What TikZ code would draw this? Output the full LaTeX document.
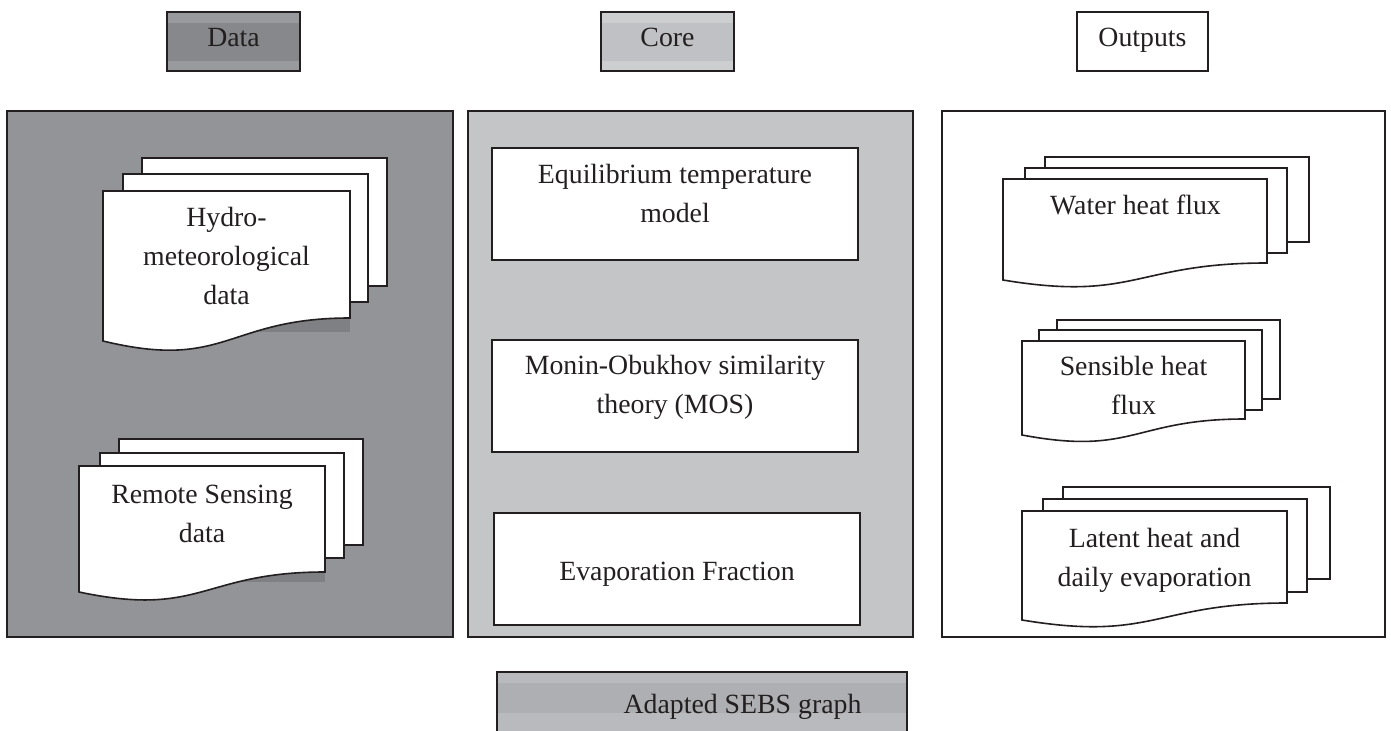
\documentclass[tikz,border=0pt]{standalone}
\usepackage{fontspec}
\setmainfont{Liberation Serif}
\definecolor{ink}{HTML}{231F20}
\definecolor{datafill}{HTML}{939498}
\definecolor{datahead}{HTML}{87888C}
\definecolor{databand}{HTML}{999A9E}
\definecolor{datashade}{HTML}{7F8084}
\definecolor{corefill}{HTML}{C4C5C7}
\definecolor{corehead}{HTML}{C0C1C4}
\definecolor{coreband}{HTML}{CDCED0}
\definecolor{sebsfill}{HTML}{AEAFB2}
\definecolor{sebsband}{HTML}{B9BABD}

% a stacked-document page: left, top, right, bottom-right, bottom-left, wave depth
\newcommand\docpage[6]{%
  \draw[docline] (#1,#2) -- (#3,#2) -- (#3,#4)
    .. controls ({(#1+#3)/2},#4) and ({(#1+#3)/2},#6) .. (#1,#5) -- cycle;}
\newcommand\sheet[4]{\draw[docline] (#1,#2) rectangle (#3,#4);}

\begin{document}
\begin{tikzpicture}[x=0.5pt,y=-0.5pt,
  panel/.style={draw=ink, line width=1pt},
  docline/.style={draw=ink, line width=0.8pt, fill=white},
  boxline/.style={draw=ink, line width=1pt, fill=white},
  txt/.style={text=ink, font=\fontsize{13.9}{19.5}\selectfont,
    align=center, anchor=base, inner sep=0pt}]
\useasboundingbox (0,0) rectangle (1391,731);

% ---- column headers ----
\fill[datahead] (167,12) rectangle (300,71);
\fill[databand] (167,12) rectangle (300,23);
\fill[databand] (167,61) rectangle (300,71);
\draw[panel] (167,12) rectangle (300,71);
\node[txt] (hdata) at (233.5,47) {Data};

\fill[corehead] (601,12) rectangle (734,71);
\fill[coreband] (601,12) rectangle (734,23);
\fill[coreband] (601,61) rectangle (734,71);
\draw[panel] (601,12) rectangle (734,71);
\node[txt] (hcore) at (667.5,47) {Core};

\draw[panel, fill=white] (1077,12) rectangle (1208,71);
\node[txt] (hout) at (1142.5,47) {Outputs};

% ---- panels ----
\draw[panel, fill=datafill] (7,111) rectangle (453,637);
\draw[panel, fill=corefill] (468,111) rectangle (913,637);
\draw[panel, fill=white] (942,111) rectangle (1385,637);

% ---- data documents ----
\sheet{142}{158}{387}{286}
\sheet{123}{174}{368}{302}
\fill[datashade] (220,318) rectangle (350,332);
\docpage{103}{191}{350}{318}{341}{371}
\node[txt] (hydro) at (226.5,305) {Hydro-\\meteorological\\data};

\sheet{119}{439}{363}{545}
\sheet{100}{453}{344}{558}
\fill[datashade] (200,572) rectangle (325,582);
\docpage{79}{466}{325}{572}{592}{618}
\node[txt] (rs) at (202,542) {Remote Sensing\\data};

% ---- core modules ----
\draw[boxline] (492,148) rectangle (858,260);
\node[txt] (eq) at (675,223) {Equilibrium temperature\\model};
\draw[boxline] (492,340) rectangle (858,452);
\node[txt] (mos) at (675,414) {Monin-Obukhov similarity\\theory (MOS)};
\draw[boxline] (494,513) rectangle (860,625);
\node[txt] (ef) at (677,581) {Evaporation Fraction};

% ---- output documents ----
\sheet{1045}{157}{1309}{242}
\sheet{1025}{168}{1287}{253}
\docpage{1003}{179}{1267}{263}{280}{302}
\node[txt] (wh) at (1135.5,215) {Water heat flux};

\sheet{1057}{320}{1280}{399}
\sheet{1039}{330}{1262}{410}
\docpage{1022}{341}{1245}{419}{435}{456}
\node[txt] (sh) at (1133.5,415) {Sensible heat\\flux};

\sheet{1063}{487}{1330}{579}
\sheet{1043}{499}{1307}{592}
\docpage{1022}{511}{1287}{603}{620}{642}
\node[txt] (lh) at (1154.5,586) {Latent heat and\\daily evaporation};

% ---- caption bar ----
\fill[sebsfill] (497,672) rectangle (907,740);
\fill[sebsband] (497,672) rectangle (907,683);
\fill[sebsband] (497,713) rectangle (907,740);
\draw[panel] (497,740) -- (497,672) -- (907,672) -- (907,740);
\node[txt] (sebs) at (742.5,713) {Adapted SEBS graph};
\end{tikzpicture}
\end{document}
